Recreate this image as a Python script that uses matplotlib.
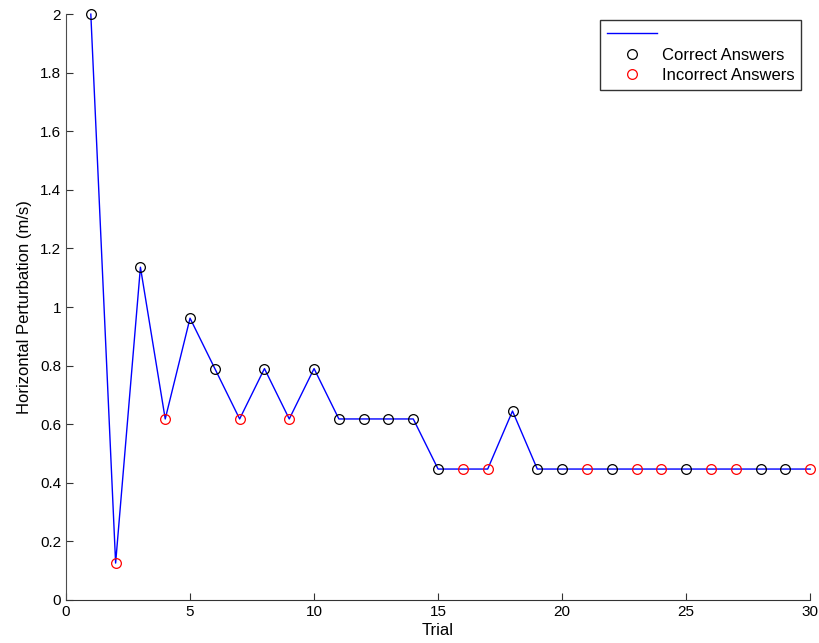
import numpy as np
import matplotlib.pyplot as plt

plt.rcParams['font.family'] = ['Liberation Sans', 'DejaVu Sans']

trials = np.arange(1, 31)
perturbation = [2.0, 0.126, 1.136, 0.618, 0.962, 0.79, 0.618, 0.79, 0.618, 0.79,
                0.618, 0.618, 0.618, 0.618, 0.447, 0.447, 0.447, 0.645, 0.447, 0.447,
                0.447, 0.447, 0.447, 0.447, 0.447, 0.447, 0.447, 0.447, 0.447, 0.447]
correct = [1, 0, 1, 0, 1, 1, 0, 1, 0, 1,
           1, 1, 1, 1, 1, 0, 0, 1, 1, 1,
           0, 1, 0, 0, 1, 0, 0, 1, 1, 0]

perturbation = np.array(perturbation)
correct = np.array(correct, dtype=bool)

fig = plt.figure(figsize=(8.2, 6.43), dpi=100)
ax = fig.add_axes([0.0805, 0.0669, 0.9075, 0.9111])

ax.plot(trials, perturbation, color='blue', linewidth=1, label=' ', clip_on=False)
ax.plot(trials[correct], perturbation[correct], 'o', mfc='none', mec='black',
        markersize=7, markeredgewidth=0.9, label='Correct Answers', clip_on=False)
ax.plot(trials[~correct], perturbation[~correct], 'o', mfc='none', mec='red',
        markersize=7, markeredgewidth=0.9, label='Incorrect Answers', clip_on=False)

ax.set_xlim(0, 30)
ax.set_ylim(0, 2)
ax.set_xticks(np.arange(0, 31, 5))
ax.set_yticks(np.arange(0, 2.01, 0.2))
ax.set_yticklabels(['0', '0.2', '0.4', '0.6', '0.8', '1', '1.2', '1.4', '1.6', '1.8', '2'])
ax.tick_params(direction='in', length=5, labelsize=11, color='0.2')
ax.spines['top'].set_visible(False)
ax.spines['right'].set_visible(False)
ax.spines['left'].set_color('0.3')
ax.spines['bottom'].set_color('0.2')
ax.set_xlabel('Trial', fontsize=12, labelpad=3)
ax.set_ylabel('Horizontal Perturbation (m/s)', fontsize=12, labelpad=6)

leg = ax.legend(loc='upper right', fontsize=12, frameon=True, fancybox=False,
                edgecolor='black', borderaxespad=0, handlelength=3.0,
                handletextpad=0.3, labelspacing=0.35, borderpad=0.4,
                bbox_to_anchor=(801 / 820, 1 - 20 / 643),
                bbox_transform=fig.transFigure)
leg.get_frame().set_linewidth(1)

fig.savefig('out.png', dpi=100)
